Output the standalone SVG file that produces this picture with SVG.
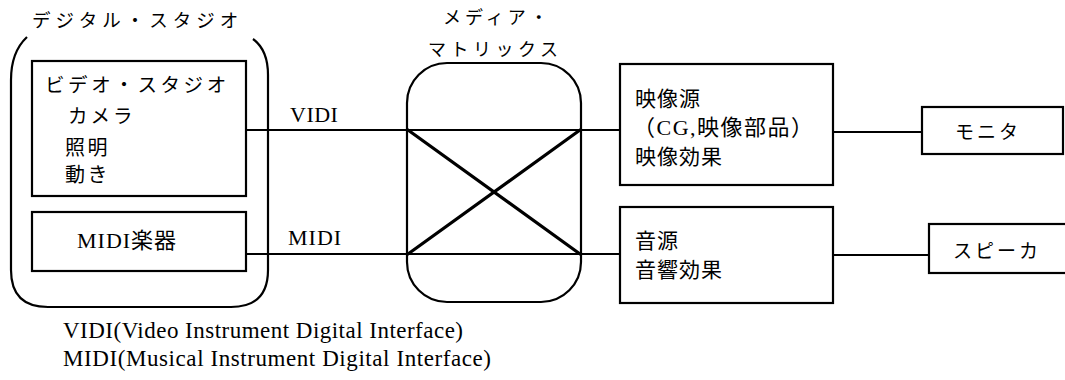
<svg xmlns="http://www.w3.org/2000/svg" width="1065" height="380" viewBox="0 0 1065 380">
<style>
.box{fill:none;stroke:#000;stroke-width:2.2}
.ln{fill:none;stroke:#000;stroke-width:2}
.x{fill:none;stroke:#000;stroke-width:3.2;stroke-linecap:round}
.jp{font-family:"Noto Sans CJK JP",sans-serif;fill:#000}
.lt{font-family:"Liberation Serif","Noto Sans CJK JP",serif;fill:#000}
</style>
<rect width="1065" height="380" fill="#fff"/>
<g id="connectors">
<line class="ln" x1="246" y1="130" x2="620" y2="130"/>
<line class="ln" x1="246" y1="254" x2="620" y2="254"/>
<line class="x" x1="408" y1="130" x2="580" y2="254"/>
<line class="x" x1="580" y1="130" x2="408" y2="254"/>
<line class="ln" x1="833" y1="132" x2="922" y2="132"/>
<line class="ln" x1="833" y1="255" x2="929" y2="255"/>
<text class="lt" x="290" y="122" font-size="22" letter-spacing="0.5">VIDI</text>
<text class="lt" x="288" y="245" font-size="22" letter-spacing="1">MIDI</text>
</g>
<g id="digital-studio">
<path class="box" d="M27,37 Q11,52 11,80 L11,270 Q11,307 48,307 L231,307 Q268,307 268,270 L268,75 Q268,50 253,39"/>
<text class="jp" x="32" y="27" font-size="18.5" letter-spacing="5">デジタル・スタジオ</text>
</g>
<g id="video-studio">
<rect class="box" x="32" y="61" width="214" height="135"/>
<text class="jp" x="45" y="92" font-size="19.5" letter-spacing="3.6">ビデオ・スタジオ</text>
<text class="jp" x="68" y="123" font-size="19.5" letter-spacing="3">カメラ</text>
<text class="jp" x="65" y="155" font-size="20" letter-spacing="2.5">照明</text>
<text class="jp" x="65" y="182" font-size="20" letter-spacing="2.5">動き</text>
</g>
<g id="midi-instrument">
<rect class="box" x="32" y="212" width="214" height="59"/>
<text class="lt" x="77" y="248" font-size="22" letter-spacing="1">MIDI楽器</text>
</g>
<g id="media-matrix">
<rect class="box" x="407" y="63" width="174" height="239" rx="40" ry="40"/>
<text class="jp" x="443" y="24" font-size="18" letter-spacing="4">メディア・</text>
<text class="jp" x="428" y="56" font-size="18" letter-spacing="4.5">マトリックス</text>
</g>
<g id="video-source">
<rect class="box" x="620" y="64" width="213" height="121"/>
<text class="jp" x="635" y="106" font-size="21" letter-spacing="1">映像源</text>
<text class="lt" x="633" y="135" font-size="22" letter-spacing="1.5">（CG,映像部品）</text>
<text class="jp" x="635" y="164" font-size="21" letter-spacing="1">映像効果</text>
</g>
<g id="audio-source">
<rect class="box" x="620" y="207" width="213" height="96"/>
<text class="jp" x="635" y="248" font-size="21" letter-spacing="1">音源</text>
<text class="jp" x="635" y="277" font-size="21" letter-spacing="1">音響効果</text>
</g>
<g id="monitor">
<rect class="box" x="922" y="107" width="141" height="47"/>
<text class="jp" x="955" y="139" font-size="19" letter-spacing="3">モニタ</text>
</g>
<g id="speaker">
<rect class="box" x="929" y="224" width="150" height="49"/>
<text class="jp" x="953" y="258" font-size="19" letter-spacing="3">スピーカ</text>
</g>
<g id="legend">
<text class="lt" x="63" y="338" font-size="23" textLength="400" lengthAdjust="spacing">VIDI(Video Instrument Digital Interface)</text>
<text class="lt" x="63" y="366" font-size="23" textLength="428" lengthAdjust="spacing">MIDI(Musical Instrument Digital Interface)</text>
</g>
</svg>
